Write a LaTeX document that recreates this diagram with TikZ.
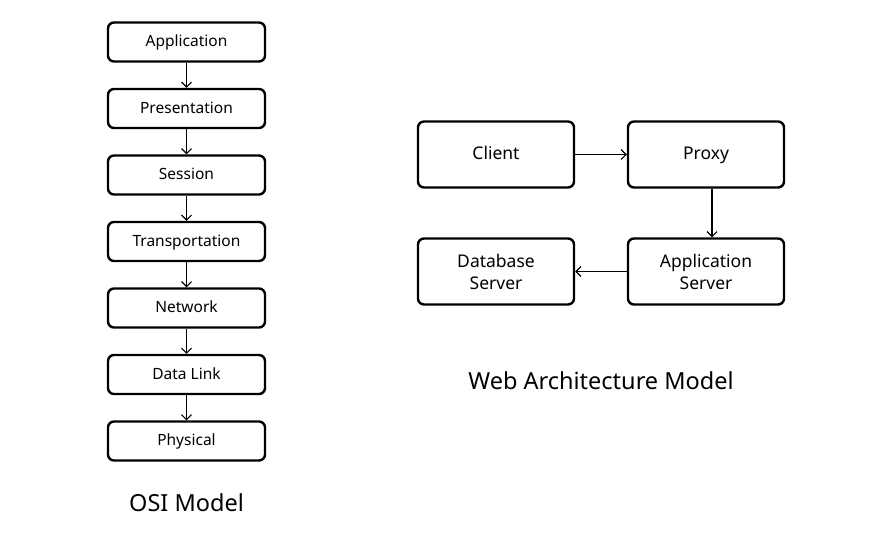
\documentclass[tikz,border=0pt]{standalone}
\usepackage{fontspec}
\setmainfont{Noto Sans}
\usetikzlibrary{arrows.meta}
\begin{document}
\begin{tikzpicture}[x=1pt,y=-1pt,
  box/.style={draw=black,line width=2.4pt,rounded corners=6pt,fill=white,inner sep=0pt,align=center},
  onel/.style={text height=0.95em,text depth=0pt},
  osibox/.style={box,onel,minimum width=157pt,minimum height=39pt,font=\fontsize{15.5}{18}\selectfont},
  webbox/.style={box,minimum width=156pt,minimum height=66pt,font=\fontsize{17.5}{22}\selectfont},
  conn/.style={line width=1.1pt,-{Straight Barb[length=5pt,width=10pt,line width=1.1pt]}},
  title/.style={font=\fontsize{23.5}{28}\selectfont}]
\useasboundingbox (0,0) rectangle (880,547);
\node[osibox] (app) at (186.5,42) {Application};
\node[osibox] (pres) at (186.5,108.5) {Presentation};
\node[osibox] (sess) at (186.5,175) {Session};
\node[osibox] (trans) at (186.5,241.5) {Transportation};
\node[osibox] (net) at (186.5,308) {Network};
\node[osibox] (dl) at (186.5,374.5) {Data Link};
\node[osibox] (phy) at (186.5,441) {Physical};
\foreach \a/\b in {app/pres,pres/sess,sess/trans,trans/net,net/dl,dl/phy}
  \draw[conn] (\a.south) -- (\b.north);
\node[title] (osi) at (186.5,503) {OSI Model};

\node[webbox,onel] (client) at (496,154.5) {Client};
\node[webbox,onel] (proxy) at (706,154.5) {Proxy};
\node[webbox] (db) at (496,271.5) {Database\\Server};
\node[webbox] (as) at (706,271.5) {Application\\Server};
\draw[conn] (client.east) -- (proxy.west);
\draw[conn] ([xshift=6pt]proxy.south) -- ([xshift=6pt]as.north);
\draw[conn] (as.west) -- (db.east);
\node[title] (web) at (601,381) {Web Architecture Model};
\end{tikzpicture}
\end{document}
